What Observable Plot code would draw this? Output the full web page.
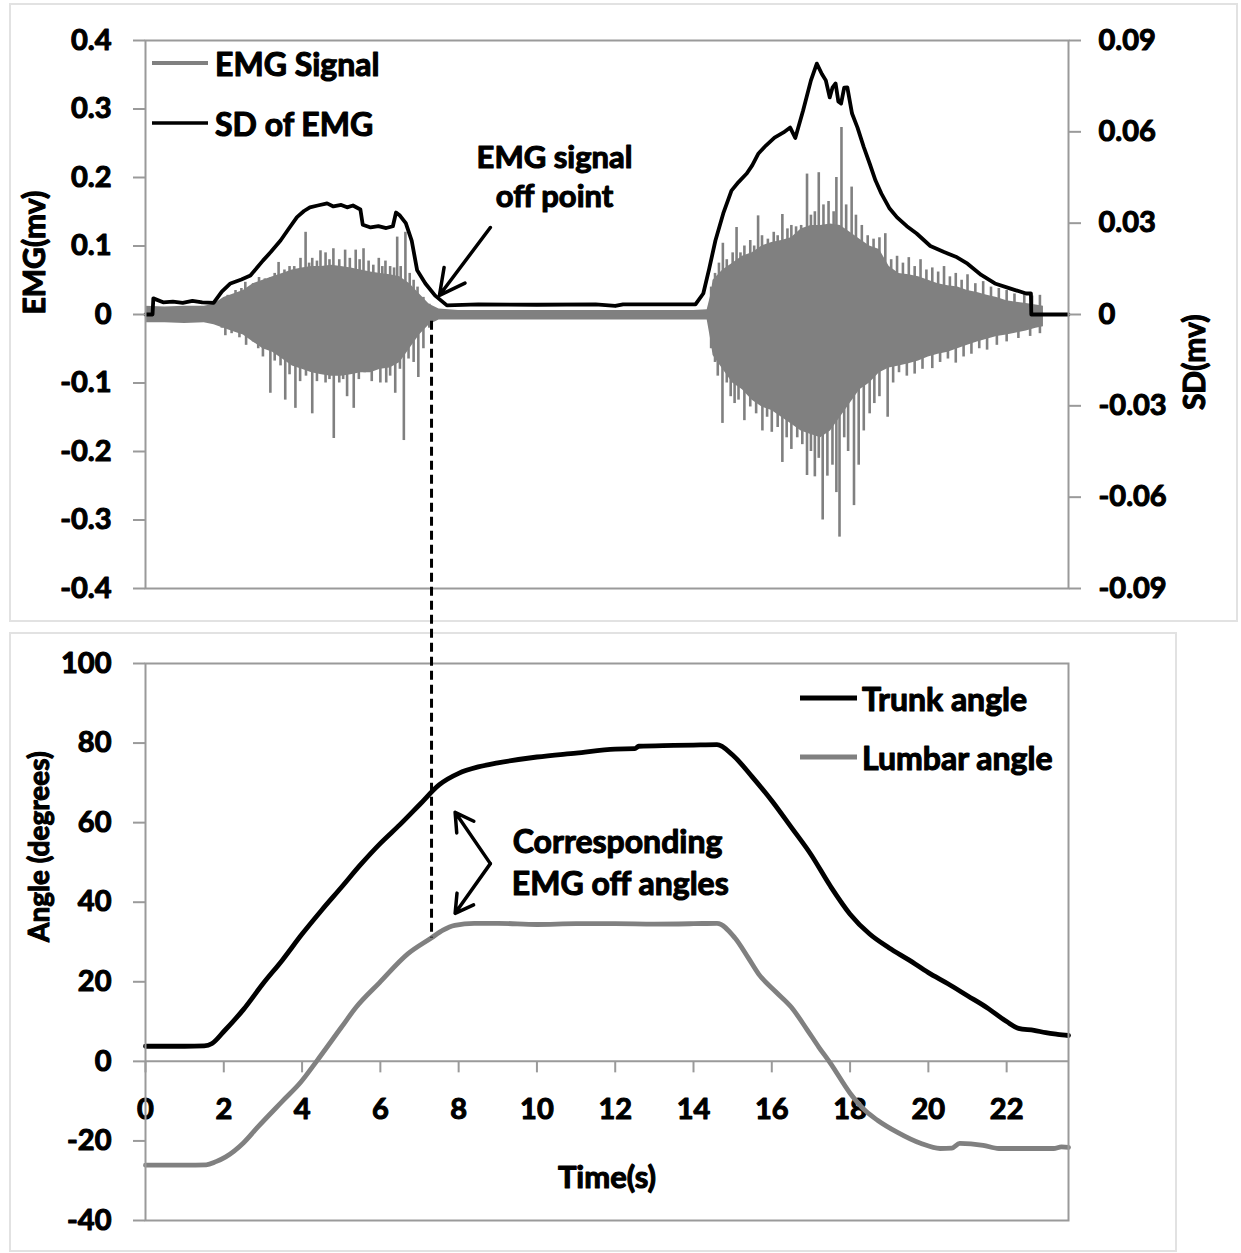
<!DOCTYPE html>
<html>
<head>
<meta charset="utf-8">
<script src="https://cdn.jsdelivr.net/npm/d3@7"></script>
<script src="https://cdn.jsdelivr.net/npm/@observablehq/plot@0.6"></script>
<style>
  html, body { margin: 0; padding: 0; background: #fff; }
  #wrap { position: relative; width: 1241px; height: 1253px; overflow: hidden; font-family: Lato, "Open Sans", sans-serif; }
  .box { position: absolute; border: 2px solid #e2e2e2; box-sizing: border-box; }
  .holder { position: absolute; left: 0; }
  #overlay { position: absolute; left: 0; top: 0; pointer-events: none; }
  #wrap text { stroke: #000; stroke-width: 1.1px; paint-order: stroke; stroke-linejoin: round; }
</style>
</head>
<body>
<div id="wrap">
  <div class="box" style="left:9px;top:3px;width:1229px;height:619px"></div>
  <div class="box" style="left:9px;top:632px;width:1168px;height:620px"></div>
  <div class="holder" id="topHolder" style="top:0"></div>
  <div class="holder" id="bottomHolder" style="top:632px"></div>
</div>
<script>
// ---------------- DATA ----------------
const xMax = 23.58;                       // end of the time axis (s)
const emgTicks = [-0.4, -0.3, -0.2, -0.1, 0, 0.1, 0.2, 0.3, 0.4];
const sdTicks = [-0.09, -0.06, -0.03, 0, 0.03, 0.06, 0.09];
const angleTicks = [-40, -20, 0, 20, 40, 60, 80, 100];
const timeTicks = [0, 2, 4, 6, 8, 10, 12, 14, 16, 18, 20, 22];

// EMG signal: dense core envelope (time, upper, lower) in mV
const emgT  = [0, 0.5, 1.0, 1.5, 1.75, 2.0, 2.25, 2.5, 2.75, 3.0, 3.25, 3.5, 3.75, 4.0, 4.25, 4.5, 4.75, 5.0, 5.25, 5.5, 5.75, 6.0, 6.25, 6.5, 6.75, 7.0, 7.25, 7.5, 8, 9, 10, 11, 12, 13, 14, 14.35, 14.45, 14.5, 14.75, 15.0, 15.25, 15.5, 15.75, 16.0, 16.25, 16.5, 16.75, 17.0, 17.25, 17.5, 17.75, 18.0, 18.25, 18.5, 18.75, 19.0, 19.25, 19.5, 19.75, 20.0, 20.25, 20.5, 20.75, 21.0, 21.25, 21.5, 21.75, 22.0, 22.25, 22.5, 22.75, 22.94];
const emgHi = [0.012, 0.011, 0.012, 0.012, 0.015, 0.025, 0.03, 0.035, 0.045, 0.05, 0.055, 0.06, 0.065, 0.068, 0.07, 0.07, 0.072, 0.07, 0.068, 0.065, 0.062, 0.06, 0.058, 0.055, 0.045, 0.03, 0.015, 0.008, 0.006, 0.006, 0.006, 0.006, 0.006, 0.006, 0.006, 0.007, 0.03, 0.05, 0.065, 0.075, 0.085, 0.09, 0.1, 0.105, 0.108, 0.112, 0.125, 0.13, 0.13, 0.132, 0.13, 0.12, 0.11, 0.1, 0.095, 0.07, 0.06, 0.058, 0.055, 0.05, 0.045, 0.042, 0.04, 0.035, 0.032, 0.028, 0.025, 0.02, 0.018, 0.016, 0.014, 0.012];
const emgLo = [-0.012, -0.012, -0.013, -0.012, -0.015, -0.02, -0.025, -0.03, -0.04, -0.05, -0.055, -0.065, -0.075, -0.08, -0.085, -0.088, -0.09, -0.09, -0.088, -0.085, -0.085, -0.08, -0.078, -0.07, -0.05, -0.03, -0.015, -0.008, -0.008, -0.008, -0.008, -0.008, -0.008, -0.008, -0.008, -0.008, -0.04, -0.06, -0.08, -0.1, -0.11, -0.125, -0.135, -0.14, -0.15, -0.16, -0.17, -0.175, -0.18, -0.17, -0.15, -0.13, -0.11, -0.1, -0.085, -0.078, -0.075, -0.072, -0.068, -0.062, -0.058, -0.055, -0.05, -0.045, -0.04, -0.036, -0.032, -0.03, -0.027, -0.024, -0.02, -0.018];

// EMG signal: individual spikes [time, mV]
const emgSpikes = [
  [1.95,0.022],[2.1,0.028],[2.3,0.035],[2.45,0.038],[2.55,0.047],[2.75,0.045],[2.9,0.054],[3.05,0.052],[3.2,0.054],[3.3,0.06],[3.4,0.076],[3.55,0.065],[3.68,0.07],[3.8,0.07],[3.96,0.082],[4.09,0.12],[4.18,0.075],[4.26,0.082],[4.38,0.078],[4.47,0.093],[4.6,0.09],[4.7,0.08],[4.8,0.096],[4.95,0.08],[5.1,0.094],[5.22,0.082],[5.37,0.094],[5.47,0.08],[5.57,0.096],[5.7,0.078],[5.82,0.072],[5.96,0.082],[6.05,0.07],[6.13,0.078],[6.25,0.07],[6.35,0.068],[6.43,0.113],[6.52,0.07],[6.64,0.12],[6.75,0.06],[6.85,0.05],[6.95,0.04],[7.1,0.025],[7.25,0.015],
  [1.95,-0.02],[2.04,-0.031],[2.2,-0.028],[2.4,-0.034],[2.57,-0.045],[2.75,-0.04],[2.88,-0.05],[3.0,-0.062],[3.19,-0.115],[3.3,-0.068],[3.45,-0.075],[3.57,-0.125],[3.68,-0.088],[3.83,-0.137],[3.95,-0.098],[4.1,-0.09],[4.26,-0.145],[4.38,-0.098],[4.6,-0.1],[4.7,-0.095],[4.81,-0.181],[4.95,-0.1],[5.05,-0.095],[5.15,-0.12],[5.32,-0.137],[5.45,-0.095],[5.6,-0.085],[5.78,-0.098],[6.0,-0.1],[6.15,-0.1],[6.25,-0.09],[6.38,-0.115],[6.5,-0.08],[6.6,-0.184],[6.72,-0.065],[6.85,-0.07],[6.97,-0.092],[7.1,-0.05],[7.25,-0.02],
  [14.45,0.04],[14.55,0.06],[14.65,0.075],[14.75,0.104],[14.85,0.08],[15.0,0.09],[15.1,0.127],[15.2,0.09],[15.3,0.1],[15.45,0.108],[15.55,0.1],[15.65,0.144],[15.75,0.115],[15.9,0.11],[16.05,0.12],[16.15,0.115],[16.27,0.146],[16.4,0.125],[16.5,0.13],[16.62,0.128],[16.75,0.13],[16.9,0.205],[17.0,0.145],[17.1,0.15],[17.2,0.207],[17.32,0.16],[17.45,0.165],[17.58,0.15],[17.65,0.2],[17.78,0.273],[17.9,0.16],[18.04,0.186],[18.15,0.145],[18.3,0.13],[18.45,0.115],[18.6,0.11],[18.75,0.112],[18.9,0.118],[19.05,0.08],[19.2,0.085],[19.35,0.075],[19.5,0.083],[19.65,0.07],[19.8,0.08],[19.95,0.065],[20.1,0.068],[20.25,0.062],[20.4,0.07],[20.55,0.055],[20.7,0.06],[20.85,0.05],[21.0,0.058],[21.2,0.045],[21.4,0.048],[21.6,0.04],[21.8,0.038],[22.0,0.035],[22.2,0.03],[22.45,0.03],[22.65,0.027],[22.85,0.028],
  [14.45,-0.05],[14.55,-0.07],[14.62,-0.09],[14.74,-0.159],[14.85,-0.1],[14.95,-0.12],[15.05,-0.13],[15.15,-0.125],[15.3,-0.155],[15.45,-0.135],[15.6,-0.145],[15.76,-0.17],[15.88,-0.15],[16.0,-0.172],[16.15,-0.165],[16.27,-0.216],[16.38,-0.18],[16.5,-0.197],[16.65,-0.18],[16.78,-0.19],[16.9,-0.235],[17.0,-0.2],[17.1,-0.237],[17.2,-0.21],[17.3,-0.30],[17.42,-0.236],[17.55,-0.22],[17.65,-0.26],[17.73,-0.325],[17.85,-0.18],[17.95,-0.2],[18.1,-0.279],[18.22,-0.22],[18.35,-0.17],[18.5,-0.145],[18.62,-0.13],[18.75,-0.12],[18.96,-0.15],[19.1,-0.1],[19.25,-0.085],[19.45,-0.09],[19.65,-0.087],[19.85,-0.08],[20.1,-0.079],[20.3,-0.07],[20.5,-0.065],[20.7,-0.071],[20.9,-0.062],[21.1,-0.058],[21.3,-0.05],[21.5,-0.052],[21.75,-0.045],[22.0,-0.04],[22.3,-0.035],[22.6,-0.032],[22.85,-0.028]
];

// SD of EMG [time, mV] (right axis)
const sdSeries = [
  [0,0],[0.18,0],[0.2,0.0053],[0.45,0.004],[0.7,0.0042],[0.95,0.0038],[1.2,0.0045],[1.45,0.004],[1.74,0.0038],[1.95,0.0075],[2.17,0.0102],[2.45,0.0115],[2.68,0.0128],[3.0,0.0177],[3.2,0.0205],[3.45,0.0243],[3.65,0.028],[3.87,0.032],[4.05,0.034],[4.2,0.0352],[4.4,0.0358],[4.64,0.0365],[4.8,0.0355],[5.0,0.036],[5.15,0.0352],[5.3,0.0358],[5.49,0.0345],[5.55,0.0295],[5.75,0.0286],[5.95,0.029],[6.15,0.0284],[6.32,0.029],[6.4,0.0335],[6.5,0.0325],[6.65,0.030],[6.8,0.0243],[6.94,0.0145],[7.15,0.0102],[7.4,0.0062],[7.7,0.003],[8.5,0.0033],[10,0.0032],[11.5,0.0033],[12.0,0.0028],[12.2,0.0033],[14.05,0.0033],[14.25,0.0069],[14.4,0.015],[14.56,0.0243],[14.76,0.0332],[14.97,0.0407],[15.15,0.0435],[15.36,0.0463],[15.5,0.049],[15.66,0.0529],[15.85,0.0555],[16.07,0.0581],[16.3,0.0598],[16.47,0.0614],[16.6,0.058],[16.8,0.067],[17.0,0.0769],[17.15,0.0824],[17.28,0.079],[17.38,0.0769],[17.48,0.0713],[17.55,0.0745],[17.63,0.0759],[17.7,0.070],[17.77,0.0693],[17.85,0.0745],[17.93,0.0746],[18.05,0.066],[18.19,0.0614],[18.35,0.055],[18.5,0.0496],[18.65,0.044],[18.8,0.0397],[19.0,0.035],[19.2,0.0319],[19.45,0.029],[19.7,0.0266],[20.05,0.0225],[20.4,0.0205],[20.7,0.019],[21.0,0.0167],[21.35,0.013],[21.7,0.0102],[22.1,0.0085],[22.5,0.0069],[22.62,0.0069],[22.63,0],[23.58,0]
];

// Angles [time, degrees]
const trunkAngle = [
  [0,3.8],[1.0,3.8],[1.5,3.9],[1.7,4.5],[2.0,7.5],[2.5,13],[3.0,19.5],[3.5,25.5],[4.0,32],[4.5,38],[5.0,43.7],[5.5,49.5],[6.0,54.8],[6.5,59.5],[7.0,64.5],[7.5,69.5],[8.0,72.4],[8.5,74],[9.0,75],[10,76.5],[11,77.5],[12,78.5],[12.5,78.6],[12.6,79.2],[13.5,79.4],[14,79.5],[14.6,79.6],[15.0,77],[15.5,71.5],[16,65.5],[16.5,58.8],[17.0,52],[17.5,44],[18.0,37],[18.5,32],[19,28.5],[19.5,25.5],[20,22.3],[20.5,19.5],[21,16.5],[21.5,13.5],[22,10],[22.3,8.3],[22.7,7.8],[23,7.2],[23.3,6.8],[23.58,6.5]
];
const lumbarAngle = [
  [0,-26.1],[1.0,-26.1],[1.55,-26],[1.8,-25.2],[2.05,-24],[2.5,-20.5],[2.86,-16.6],[3.5,-10],[3.97,-5.2],[4.37,0],[5.0,8.5],[5.38,13.6],[5.98,19.8],[6.7,27],[7.3,31],[7.6,33],[7.9,34.2],[8.4,34.7],[9,34.7],[10,34.4],[11,34.6],[12,34.6],[13,34.5],[14,34.6],[14.6,34.7],[15.06,31],[15.4,26],[15.66,22],[16.1,17.5],[16.5,13.6],[16.9,8],[17.2,3.6],[17.5,-0.5],[18,-8],[18.4,-12.5],[18.7,-14.8],[19.2,-17.8],[19.8,-20.6],[20.3,-21.9],[20.6,-21.8],[20.8,-20.6],[21.4,-21.1],[21.8,-21.9],[22.5,-21.9],[23.2,-21.9],[23.4,-21.5],[23.58,-21.6]
];

// Annotations
const offTime = 7.32;           // EMG off point (s)
const offEmg = -0.01;           // dashed line start on the EMG panel (mV)
const offLumbar = 31;           // dashed line end on the angle panel (deg)
const topNoteText = ["EMG signal", "off point"];
const topNoteT = [10.45, 10.45];
const topNoteV = [0.229, 0.172];
const topArrow = [{t1: 8.81, v1: 0.127, t2: 7.51, v2: 0.028}];
const botNoteText = ["Corresponding", "EMG off angles"];
const botNoteT = [12.06, 12.13];
const botNoteV = [55.0, 44.4];
const botArrows = [{t1: 8.81, v1: 49.7, t2: 7.91, v2: 62.6}, {t1: 8.81, v1: 49.7, t2: 7.91, v2: 37.2}];

// Series names / colours
const topLegend = [{name: "EMG Signal", color: "#808080", w: 4}, {name: "SD of EMG", color: "#000000", w: 3.5}];
const botLegend = [{name: "Trunk angle", color: "#000000", w: 5}, {name: "Lumbar angle", color: "#808080", w: 5}];

// ---------------- DRAW ----------------
const FONT = 'Lato, "Open Sans", sans-serif';
const axisGray = "#9a9a9a";
const sigGray = "#808080";
const ratio = 0.09 / 0.4;   // SD units per EMG unit
const fmtE = d => d === 0 ? "0" : d.toFixed(1);
const fmtS = d => Math.abs(d) < 1e-9 ? "0" : d.toFixed(2);

const emgRows = emgT.map((t, i) => ({t, hi: emgHi[i], lo: emgLo[i]}));
const spikeRows = emgSpikes.map(([t, v]) => ({t, v}));
const sdRows = sdSeries.map(([t, v]) => ({t, v: v / ratio}));
const trunkRows = trunkAngle.map(([t, v]) => ({t, v}));
const lumbarRows = lumbarAngle.map(([t, v]) => ({t, v}));
const topNotes = topNoteText.map((s, i) => ({s, t: topNoteT[i], v: topNoteV[i]}));
const botNotes = botNoteText.map((s, i) => ({s, t: botNoteT[i], v: botNoteV[i]}));

const svgStyle = {fontFamily: FONT, fontWeight: "bold", color: "#000", background: "transparent", overflow: "visible"};

const topPlot = Plot.plot({
  width: 1241, height: 622,
  marginLeft: 145, marginRight: 173, marginTop: 40, marginBottom: 34,
  x: {domain: [0, xMax], axis: null},
  y: {domain: [-0.4, 0.4], axis: null},
  style: svgStyle,
  marks: [
    Plot.areaY(emgRows, {x: "t", y1: "lo", y2: "hi", fill: sigGray}),
    Plot.ruleX(spikeRows, {x: "t", y1: 0, y2: "v", stroke: sigGray, strokeWidth: 2.6}),
    Plot.line(sdRows, {x: "t", y: "v", stroke: "#000", strokeWidth: 3.8, strokeLinejoin: "round"}),
    Plot.frame({stroke: axisGray, strokeWidth: 2}),
    Plot.axisY({anchor: "left", ticks: emgTicks, tickFormat: fmtE, tickSize: 12, tickPadding: 22, fontSize: 29, stroke: axisGray, strokeWidth: 2, label: null}),
    Plot.axisY({anchor: "right", ticks: sdTicks.map(v => v / ratio), tickFormat: d => fmtS(d * ratio), tickSize: 12, tickPadding: 18, fontSize: 29, stroke: axisGray, strokeWidth: 2, label: null}),
    Plot.arrow(topArrow, {x1: "t1", y1: "v1", x2: "t2", y2: "v2", stroke: "#000", strokeWidth: 3.5, headLength: 22, headAngle: 55}),
    Plot.text(topNotes, {x: "t", y: "v", text: "s", fontSize: 31, fill: "#000"}),
    Plot.text(["EMG(mv)"], {frameAnchor: "left", rotate: -90, dx: -110, fontSize: 30, fill: "#000"}),
    Plot.text(["SD(mv)"], {frameAnchor: "right", rotate: -90, dx: 127, fontSize: 30, fill: "#000"})
  ]
});
document.getElementById("topHolder").appendChild(topPlot);

// x-axis tick marks hanging below the zero line
const tickDown = {draw(ctx) { ctx.moveTo(0, 0); ctx.lineTo(0, 11); }};

const botPlot = Plot.plot({
  width: 1241, height: 621,
  marginLeft: 145, marginRight: 173, marginTop: 31, marginBottom: 33,
  x: {domain: [0, xMax], axis: null},
  y: {domain: [-40, 100], axis: null},
  style: svgStyle,
  marks: [
    Plot.ruleY([0], {stroke: axisGray, strokeWidth: 2}),
    Plot.dot(timeTicks, {x: d => d, y: 0, symbol: tickDown, stroke: axisGray, strokeWidth: 2, fill: "none"}),
    Plot.text(timeTicks, {x: d => d, y: 0, dy: 48, text: d => String(d), fontSize: 29, fill: "#000"}),
    Plot.line(lumbarRows, {x: "t", y: "v", stroke: sigGray, strokeWidth: 4.8, strokeLinejoin: "round", strokeLinecap: "round", curve: "monotone-x"}),
    Plot.line(trunkRows, {x: "t", y: "v", stroke: "#000", strokeWidth: 4.8, strokeLinejoin: "round", strokeLinecap: "round", curve: "monotone-x"}),
    Plot.frame({stroke: axisGray, strokeWidth: 2}),
    Plot.axisY({anchor: "left", ticks: angleTicks, tickFormat: d => String(d), tickSize: 12, tickPadding: 22, fontSize: 29, stroke: axisGray, strokeWidth: 2, label: null}),
    Plot.arrow(botArrows, {x1: "t1", y1: "v1", x2: "t2", y2: "v2", stroke: "#000", strokeWidth: 3.5, headLength: 20, headAngle: 60}),
    Plot.text(botNotes, {x: "t", y: "v", text: "s", fontSize: 32, fill: "#000"}),
    Plot.text(["Time(s)"], {frameAnchor: "bottom", dy: -33, fontSize: 31, fill: "#000"}),
    Plot.text(["Angle (degrees)"], {frameAnchor: "left", rotate: -90, dx: -105, fontSize: 28, fill: "#000"})
  ]
});
document.getElementById("bottomHolder").appendChild(botPlot);

// ---------- overlay: dashed off-point line and the two legends ----------
const botTop = 632;
const ns = "http://www.w3.org/2000/svg";
const ov = document.createElementNS(ns, "svg");
ov.setAttribute("id", "overlay");
ov.setAttribute("width", 1241);
ov.setAttribute("height", 1253);
document.getElementById("wrap").appendChild(ov);

const xPix = topPlot.scale("x").apply(offTime);
const yStart = topPlot.scale("y").apply(offEmg);
const yEnd = botTop + botPlot.scale("y").apply(offLumbar);
const dash = document.createElementNS(ns, "line");
dash.setAttribute("x1", xPix); dash.setAttribute("x2", xPix);
dash.setAttribute("y1", yStart); dash.setAttribute("y2", yEnd);
dash.setAttribute("stroke", "#000");
dash.setAttribute("stroke-width", 3);
dash.setAttribute("stroke-dasharray", "9,5");
ov.appendChild(dash);

function legend(items, x0, yFirst, gap, lineLen, textGap, size) {
  items.forEach((it, i) => {
    const y = yFirst + i * gap;
    const l = document.createElementNS(ns, "line");
    l.setAttribute("x1", x0); l.setAttribute("x2", x0 + lineLen);
    l.setAttribute("y1", y); l.setAttribute("y2", y);
    l.setAttribute("stroke", it.color); l.setAttribute("stroke-width", it.w);
    ov.appendChild(l);
    const t = document.createElementNS(ns, "text");
    t.setAttribute("x", x0 + lineLen + textGap);
    t.setAttribute("y", y);
    t.setAttribute("dominant-baseline", "central");
    t.setAttribute("font-family", FONT);
    t.setAttribute("font-weight", "bold");
    t.setAttribute("font-size", size);
    t.textContent = it.name;
    ov.appendChild(t);
  });
}
legend(topLegend, 152, 63, 60, 56, 7, 32);
legend(botLegend, 800, 698, 59, 57, 5, 32);
</script>
</body>
</html>
